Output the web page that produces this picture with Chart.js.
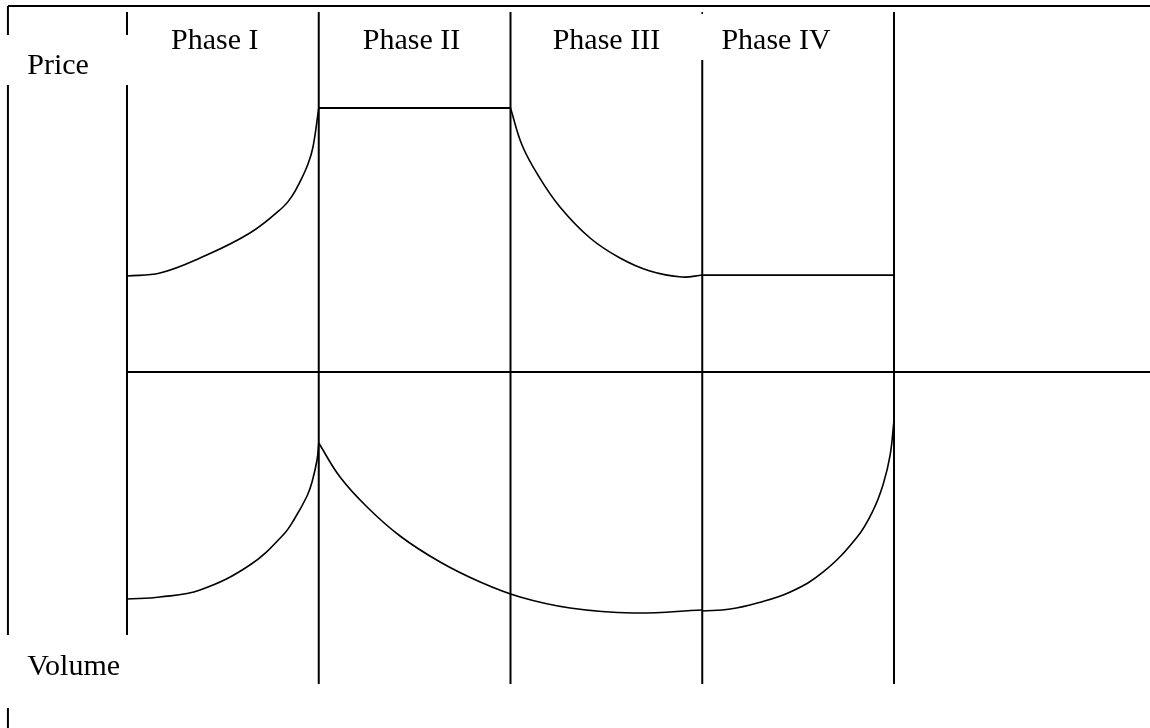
<!DOCTYPE html>
<html>
<head>
<meta charset="utf-8">
<script src="https://cdn.jsdelivr.net/npm/chart.js@4.4.0/dist/chart.umd.min.js"></script>
<style>
  html, body { margin: 0; padding: 0; background: #fff; }
  #wrap { width: 1150px; height: 728px; }
</style>
</head>
<body>
<div id="wrap"><canvas id="cycle" width="1150" height="728"></canvas></div>
<script>
// x: time, phase boundaries at 1..5 ; y: level, 0 = price/volume divider
var phaseBounds = [1, 2, 3, 4, 5];
var phaseLabels = ["Phase I", "Phase II", "Phase III", "Phase IV"];
var phaseLabelX = [1.23, 2.23, 3.22, 4.1];

// price curve
var priceP1X = [1, 1.172, 1.381, 1.641, 1.814, 1.861, 1.902, 1.944, 1.97, 2];
var priceP1Y = [4.0, 4.125, 4.75, 5.79, 6.875, 7.333, 7.92, 8.667, 9.375, 11.0];
var priceP2X = [2, 3];
var priceP2Y = [11.0, 11.0];
var priceP3X = [3, 3.06, 3.143, 3.258, 3.415, 3.571, 3.727, 3.894, 4];
var priceP3Y = [11.0, 9.458, 8.208, 6.875, 5.583, 4.75, 4.208, 3.958, 4.04];
var priceP4X = [4, 5];
var priceP4Y = [4.04, 4.04];

// volume curve
var volP1X = [1, 1.172, 1.381, 1.641, 1.814, 1.876, 1.939, 1.965, 1.991, 2];
var volP1Y = [-9.46, -9.375, -9.083, -8.042, -6.79, -6.083, -5.167, -4.583, -3.667, -2.96];
var volP23X = [2, 2.111, 2.252, 2.424, 2.633, 2.842, 3.05, 3.311, 3.639, 4];
var volP23Y = [-2.96, -4.375, -5.625, -6.833, -7.917, -8.75, -9.375, -9.833, -10.042, -9.917];
var volP4X = [4, 4.146, 4.287, 4.459, 4.631, 4.808, 4.892, 4.944, 4.98, 5];
var volP4Y = [-9.958, -9.875, -9.625, -9.167, -8.333, -6.875, -5.75, -4.667, -3.458, -2.0];

// frame and phase dividers
var frameX = 0.379;
var frameTop = 15.25;
var lineTop = 15;
var lineBottom = -13;
var priceGap = [14.04, 11.96];
var volumeGap = [-10.96, -14.0];
var phase4Top = 13;

var W = 1150, H = 728;
var PX_PER_PHASE = 191.75, LEFT_PX = 127;
var PX_PER_UNIT = 24, ZERO_PX = 372;

function pts(xs, ys) {
    return xs.map(function (x, i) { return { x: x, y: ys[i] }; });
}
function seg(x0, y0, x1, y1, w) {
    return {
        data: [{ x: x0, y: y0 }, { x: x1, y: y1 }],
        borderColor: "#000", borderWidth: w || 2, tension: 0
    };
}
function curve(xs, ys) {
    return {
        data: pts(xs, ys),
        borderColor: "#000", borderWidth: 1.6,
        tension: 0.4
    };
}

var datasets = [];
// outer frame
datasets.push(seg(frameX, frameTop, 6.4, frameTop));
datasets.push(seg(frameX, frameTop, frameX, priceGap[0]));
datasets.push(seg(frameX, priceGap[1], frameX, volumeGap[0]));
datasets.push(seg(frameX, volumeGap[1], frameX, -15));
// phase lines
datasets.push(seg(phaseBounds[0], lineTop, phaseBounds[0], priceGap[0]));
datasets.push(seg(phaseBounds[0], priceGap[1], phaseBounds[0], volumeGap[0]));
datasets.push(seg(phaseBounds[1], lineTop, phaseBounds[1], lineBottom));
datasets.push(seg(phaseBounds[2], lineTop, phaseBounds[2], lineBottom));
datasets.push(seg(phaseBounds[3], lineTop, phaseBounds[3], lineTop - 0.08, 1));
datasets.push(seg(phaseBounds[3], phase4Top, phaseBounds[3], lineBottom));
datasets.push(seg(phaseBounds[4], lineTop, phaseBounds[4], lineBottom));
// divider between price and volume
datasets.push(seg(phaseBounds[0], 0, 6.4, 0));
// curves
datasets.push(curve(priceP1X, priceP1Y));
datasets.push(seg(priceP2X[0], priceP2Y[0], priceP2X[1], priceP2Y[1], 1.8));
datasets.push(curve(priceP3X, priceP3Y));
datasets.push(seg(priceP4X[0], priceP4Y[0], priceP4X[1], priceP4Y[1], 1.8));
datasets.push(curve(volP1X, volP1Y));
datasets.push(curve(volP23X, volP23Y));
datasets.push(curve(volP4X, volP4Y));

var textPlugin = {
    id: "phaseText",
    afterDatasetsDraw: function (chart) {
        var ctx = chart.ctx;
        var xs = chart.scales.x, ys = chart.scales.y;
        ctx.save();
        ctx.fillStyle = "#000";
        ctx.font = "30px 'Liberation Serif', 'Times New Roman', serif";
        ctx.textAlign = "left";
        ctx.textBaseline = "alphabetic";
        phaseLabels.forEach(function (lab, i) {
            ctx.fillText(lab, xs.getPixelForValue(phaseLabelX[i]), ys.getPixelForValue(13.45));
        });
        ctx.fillText("Price", xs.getPixelForValue(0.48), ys.getPixelForValue(12.42));
        ctx.fillText("Volume", xs.getPixelForValue(0.48), ys.getPixelForValue(-12.63));
        ctx.restore();
    }
};

new Chart(document.getElementById("cycle").getContext("2d"), {
    type: "scatter",
    data: { datasets: datasets },
    options: {
        responsive: false,
        animation: false,
        layout: { padding: 0 },
        showLine: true,
        elements: { point: { radius: 0, hoverRadius: 0 } },
        plugins: { legend: { display: false }, tooltip: { enabled: false } },
        scales: {
            x: {
                type: "linear", display: false,
                min: 1 - LEFT_PX / PX_PER_PHASE,
                max: 1 + (W - LEFT_PX) / PX_PER_PHASE
            },
            y: {
                type: "linear", display: false,
                min: -(H - ZERO_PX) / PX_PER_UNIT,
                max: ZERO_PX / PX_PER_UNIT
            }
        }
    },
    plugins: [textPlugin]
});
</script>
</body>
</html>
